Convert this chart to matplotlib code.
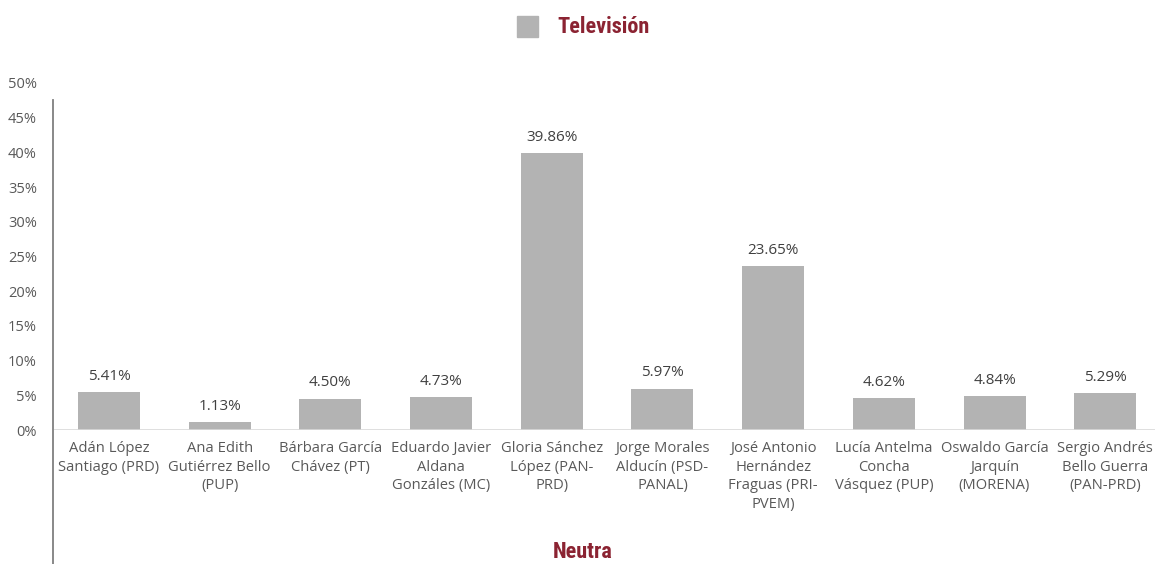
import matplotlib
matplotlib.use("Agg")
import matplotlib.pyplot as plt
from matplotlib.lines import Line2D
from matplotlib.patches import Rectangle

categories = [
    "Adán López\nSantiago (PRD)",
    "Ana Edith\nGutiérrez Bello\n(PUP)",
    "Bárbara García\nChávez (PT)",
    "Eduardo Javier\nAldana\nGonzáles (MC)",
    "Gloria Sánchez\nLópez (PAN-\nPRD)",
    "Jorge Morales\nAlducín (PSD-\nPANAL)",
    "José Antonio\nHernández\nFraguas (PRI-\nPVEM)",
    "Lucía Antelma\nConcha\nVásquez (PUP)",
    "Oswaldo García\nJarquín\n(MORENA)",
    "Sergio Andrés\nBello Guerra\n(PAN-PRD)",
]
values = [5.41, 1.13, 4.50, 4.73, 39.86, 5.97, 23.65, 4.62, 4.84, 5.29]
yticks = [0, 5, 10, 15, 20, 25, 30, 35, 40, 45, 50]
series_name = "Televisión"
xlabel = "Neutra"

W, H = 1155, 564
fig = plt.figure(figsize=(W / 100, H / 100), dpi=100)
plt.rcParams['font.family'] = ['Open Sans', 'DejaVu Sans']

left_px, right_px = 53.6, 1155
bottom_px, top_px = 430, 83
ax = fig.add_axes([left_px / W, (H - bottom_px) / H, (right_px - left_px) / W, (bottom_px - top_px) / H])
cat_w = 110.7
ax.set_xlim(-0.5, -0.5 + (right_px - left_px) / cat_w)
ax.set_ylim(0, 50)

bar_color = "#b3b3b3"
x = list(range(len(values)))
ax.bar(x, values, width=0.56, color=bar_color, zorder=2)

for xi, v in zip(x, values):
    ax.annotate(f"{v:.2f}%", (xi, v), xytext=(0, 6), textcoords="offset points",
                ha="center", va="bottom", fontsize=11, color="#404040")

for s in ax.spines.values():
    s.set_visible(False)
ax.axhline(0, color="#d9d9d9", lw=1.2, zorder=3)

ax.set_yticks(yticks)
ax.set_yticklabels([f"{t}%" for t in yticks], fontsize=10.5, color="#595959")
ax.tick_params(axis="y", length=0, pad=12)
ax.set_xticks(x)
ax.set_xticklabels(categories, fontsize=10.6, color="#595959", linespacing=1.32)
ax.tick_params(axis="x", length=0, pad=8)

# vertical axis line extending below
fig.add_artist(Line2D([52.5 / W, 52.5 / W], [0, (H - 100) / H], color="#7f7f7f", lw=1.3))

# legend
fig.add_artist(Rectangle((517 / W, (H - 37) / H), 21 / W, 21 / H, color=bar_color, transform=fig.transFigure))
fam = ["Roboto Condensed", "Liberation Sans Narrow", "Roboto", "DejaVu Sans"]
fig.text(557 / W, (H - 27) / H, series_name, fontsize=16, fontweight="bold", color="#8b2332",
         ha="left", va="center", family=fam)
fig.text(583 / W, 1 / H, xlabel, fontsize=16, fontweight="bold", color="#8b2332",
         ha="center", va="bottom", family=fam)

fig.savefig("out.png", dpi=100)
